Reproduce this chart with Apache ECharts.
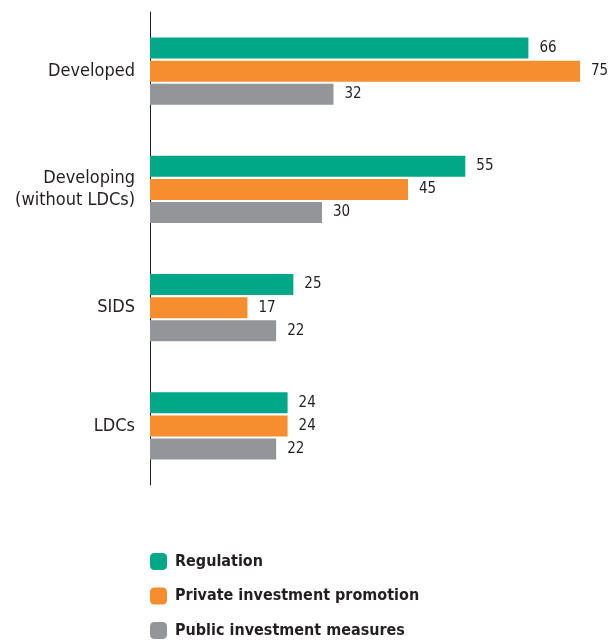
<!DOCTYPE html>
<html><head><meta charset="utf-8">
<script src="https://cdn.jsdelivr.net/npm/echarts@6/dist/echarts.min.js"></script>
<style>html,body{margin:0;padding:0;background:#fff}#c{width:610px;height:641px}</style>
</head><body><div id="c"></div>
<script>
const categories = ['Developed', 'Developing\n(without LDCs)', 'SIDS', 'LDCs'];
const seriesNames = ['Regulation', 'Private investment promotion', 'Public investment measures'];
const regulation = [66, 55, 25, 24];
const privatePromotion = [75, 45, 17, 24];
const publicMeasures = [32, 30, 22, 22];
const colors = ['#00A887', '#F68D2E', '#939598'];
const FONT = '"Liberation Sans Narrow", "DejaVu Sans Condensed", "Liberation Sans", sans-serif';
const chart = echarts.init(document.getElementById('c'));
const mk = (name, data, color) => ({
  name, type: 'bar', data, barWidth: 21, barGap: '10%',
  itemStyle: { color },
  label: { show: true, position: 'right', distance: 11, color: '#231f20', fontSize: 15, fontFamily: FONT }
});
chart.setOption({
  animation: false,
  grid: { left: 150, right: 30, top: 12, bottom: 156 },
  xAxis: { type: 'value', min: 0, max: 75, show: false },
  yAxis: {
    type: 'category', data: categories, inverse: true,
    axisLine: { show: true, lineStyle: { color: '#231f20', width: 1 } },
    axisTick: { show: false },
    axisLabel: { color: '#231f20', fontSize: 18, fontFamily: FONT, margin: 15, lineHeight: 22, align: 'right' }
  },
  legend: {
    orient: 'vertical', left: 150, top: 553, padding: 0,
    itemWidth: 17, itemHeight: 17, itemGap: 17.5, icon: 'roundRect',
    textStyle: { color: '#231f20', fontSize: 16, fontFamily: FONT, fontWeight: 'bold', padding: [0, 0, 0, 3] },
    data: seriesNames
  },
  series: [
    mk(seriesNames[0], regulation, colors[0]),
    mk(seriesNames[1], privatePromotion, colors[1]),
    mk(seriesNames[2], publicMeasures, colors[2])
  ]
});
</script></body></html>
